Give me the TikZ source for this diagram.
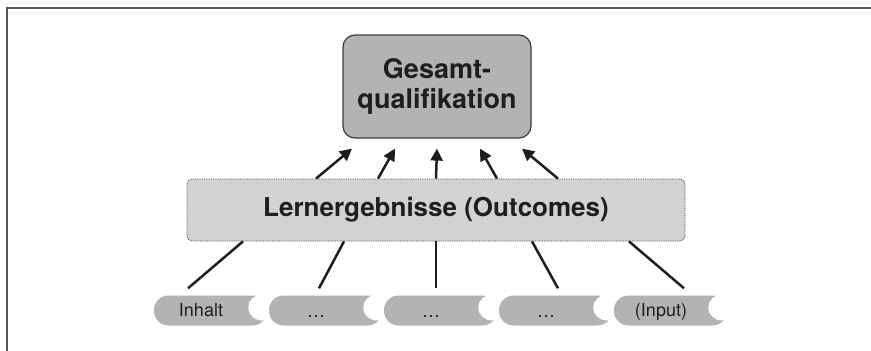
\documentclass[tikz,border=0pt]{standalone}
\usepackage{fontspec}
\setmainfont{TeX Gyre Heros}
\usetikzlibrary{arrows.meta,calc}

\definecolor{qualgray}{RGB}{178,179,181}
\definecolor{lerngray}{RGB}{209,210,212}
\definecolor{framegray}{RGB}{88,88,88}
\definecolor{edgegray}{RGB}{60,60,60}
\definecolor{inkblack}{RGB}{30,30,30}

\tikzset{
	qualbox/.style={draw=edgegray, line width=1.2pt, fill=qualgray, rounded corners=12pt,
		minimum width=188pt, minimum height=103pt, align=center,
		font=\fontsize{27}{30}\selectfont\bfseries, text=inkblack},
	lernbox/.style={draw=edgegray, densely dotted, line width=0.8pt, fill=lerngray, rounded corners=5pt,
		minimum width=498pt, minimum height=62pt,
		font=\fontsize{26}{30}\selectfont\bfseries, text=inkblack},
	tab/.style={fill=qualgray, rounded corners=14.5pt, minimum width=113pt, minimum height=30pt, inner sep=0pt},
	bite/.style={fill=white},
	tabtext/.style={anchor=base, inner sep=0pt, font=\fontsize{18}{21}\selectfont, text=inkblack},
	uparrow/.style={draw=inkblack, line width=2.5pt, -{Triangle[length=12pt,width=12pt]}},
	feed/.style={draw=inkblack, line width=2.5pt},
}

\begin{document}
\begin{tikzpicture}[x=1pt, y=-1pt]
	%%%%% START %%%%%
	\useasboundingbox (0,0) rectangle (871,351);
	
	\draw[framegray, line width=2pt] (6.5,351) -- (6.5,7.5) -- (871,7.5);
	
	\node[qualbox] (ges) at (437,86.5) {Gesamt-\\qualifikation};
	\node[lernbox] (lern) at (436,210) {Lernergebnisse (Outcomes)};
	
	\node[tab] (in1) at (210.5,310.5) {};
	\fill[bite] ([xshift=-5pt,yshift=3pt]in1.east) ellipse (14pt and 13pt);
	\node[tab] (in2) at (325.5,310.5) {};
	\fill[bite] ([xshift=-5pt,yshift=3pt]in2.east) ellipse (14pt and 13pt);
	\node[tab] (in3) at (440.5,310.5) {};
	\fill[bite] ([xshift=-5pt,yshift=3pt]in3.east) ellipse (14pt and 13pt);
	\node[tab] (in4) at (555.5,310.5) {};
	\fill[bite] ([xshift=-5pt,yshift=3pt]in4.east) ellipse (14pt and 13pt);
	\node[tab] (in5) at (670.5,310.5) {};
	\fill[bite] ([xshift=-5pt,yshift=3pt]in5.east) ellipse (14pt and 13pt);
	
	\node[tabtext] (txt1) at (201,316) {Inhalt};
	\node[tabtext] (txt2) at (316,317) {\textellipsis};
	\node[tabtext] (txt3) at (431,317) {\textellipsis};
	\node[tabtext] (txt4) at (546,317) {\textellipsis};
	\node[tabtext] (txt5) at (661,316) {(Input)};
	
	\draw[uparrow] ([xshift=-120pt]lern.north) -- ([xshift=-85pt,yshift=-10pt]ges.south);
	\draw[uparrow] ([xshift=-58pt]lern.north) -- ([xshift=-42pt,yshift=-10pt]ges.south);
	\draw[uparrow] ([xshift=0pt]lern.north) -- ([xshift=0pt,yshift=-10pt]ges.south);
	\draw[uparrow] ([xshift=61pt]lern.north) -- ([xshift=43pt,yshift=-10pt]ges.south);
	\draw[uparrow] ([xshift=122pt]lern.north) -- ([xshift=85pt,yshift=-10pt]ges.south);
	
	\draw[feed] ([xshift=-193pt]lern.south) -- ([xshift=-22.5pt,yshift=7pt]in1.north);
	\draw[feed] ([xshift=-92pt]lern.south) -- ([xshift=-6.5pt,yshift=7pt]in2.north);
	\draw[feed] ([xshift=0pt]lern.south) -- ([xshift=-4.5pt,yshift=7pt]in3.north);
	\draw[feed] ([xshift=96pt]lern.south) -- ([xshift=2.5pt,yshift=7pt]in4.north);
	\draw[feed] ([xshift=193pt]lern.south) -- ([xshift=13.5pt,yshift=7pt]in5.north);
	
	%%%%% END %%%%%
\end{tikzpicture}
\end{document}
